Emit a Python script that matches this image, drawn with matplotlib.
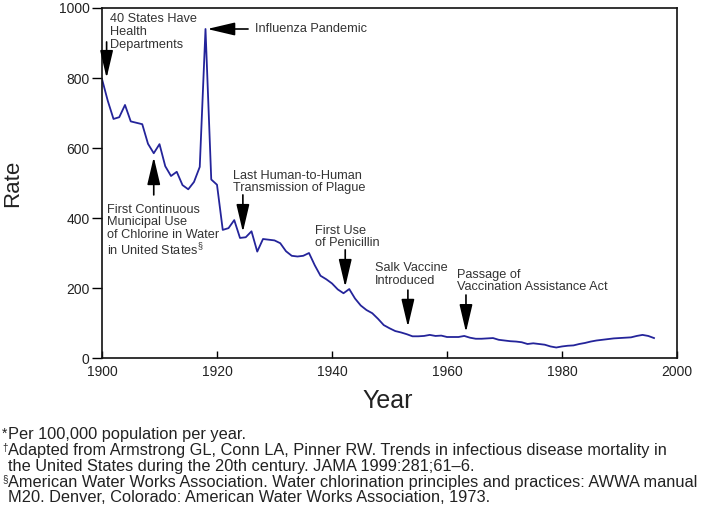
import matplotlib
matplotlib.use("Agg")
import matplotlib.pyplot as plt

# =========================
# DATA
# =========================
years = list(range(1900, 1997))

rates = [
    797, 735, 683, 688, 723, 676, 672, 668, 612, 585,   # 1900-1909
    611, 548, 520, 532, 494, 482, 503, 546, 940, 510,   # 1910-1919
    495, 366, 371, 394, 343, 345, 362, 304, 340, 338,   # 1920-1929
    336, 328, 305, 292, 290, 292, 300, 265, 235, 225,   # 1930-1939
    213, 196, 185, 197, 170, 150, 137, 128, 112, 94,    # 1940-1949
    85, 77, 73, 68, 62, 62, 63, 66, 63, 64,             # 1950-1959
    60, 60, 60, 63, 58, 55, 55, 56, 57, 52,             # 1960-1969
    50, 48, 47, 45, 40, 42, 40, 38, 33, 30,             # 1970-1979
    33, 35, 36, 40, 43, 47, 50, 52, 54, 56,             # 1980-1989
    57, 58, 59, 63, 66, 63, 57,                         # 1990-1996
]

event_labels = [
    "40 States Have\nHealth\nDepartments",
    "Influenza Pandemic",
    "First Continuous\nMunicipal Use\nof Chlorine in Water\nin United States$^{\\S}$",
    "Last Human-to-Human\nTransmission of Plague",
    "First Use\nof Penicillin",
    "Salk Vaccine\nIntroduced",
    "Passage of\nVaccination Assistance Act",
]

# arrow tip and arrow tail (year, rate)
event_tips = [
    (1900.8, 800), (1918.3, 940), (1909.0, 574), (1924.5, 360),
    (1942.3, 203), (1953.2, 89), (1963.3, 74),
]
event_tails = [
    (1900.8, 903), (1925.4, 940), (1909.0, 466), (1924.5, 466),
    (1942.3, 309), (1953.2, 194), (1963.3, 180),
]
# label anchor (year, rate) and vertical alignment
event_text_pos = [
    (1901.4, 985, "top"), (1926.6, 940, "center"), (1900.9, 441, "top"),
    (1922.8, 538, "top"), (1937.0, 381, "top"), (1947.5, 273, "top"),
    (1961.7, 255, "top"),
]

x_ticks = [1900, 1920, 1940, 1960, 1980, 2000]
y_ticks = [0, 200, 400, 600, 800, 1000]

footnotes = [
    ("*", "Per 100,000 population per year."),
    ("$^{\\dagger}$", "Adapted from Armstrong GL, Conn LA, Pinner RW. Trends in infectious disease mortality in"),
    ("", "the United States during the 20th century. JAMA 1999:281;61\u20136."),
    ("$^{\\S}$", "American Water Works Association. Water chlorination principles and practices: AWWA manual"),
    ("", "M20. Denver, Colorado: American Water Works Association, 1973."),
]

# =========================
# FIGURE
# =========================
plt.rcParams["font.family"] = ["Liberation Sans", "DejaVu Sans"]
plt.rcParams["mathtext.fontset"] = "custom"
plt.rcParams["mathtext.rm"] = "Liberation Sans"

fig = plt.figure(figsize=(7.09, 5.12), dpi=100)
ax = fig.add_axes([102 / 709, 154 / 512, 575 / 709, 350 / 512])

ax.plot(years, rates, color="#24249a", linewidth=1.3)

ax.set_xlim(1900, 2000)
ax.set_ylim(0, 1000)

ax.set_xticks(x_ticks)
ax.set_yticks(y_ticks)

ax.tick_params(axis="x", direction="in", length=5, width=1,
               labelsize=10, labelcolor="#222222", pad=5)
ax.tick_params(axis="y", direction="out", length=7, width=1,
               labelsize=10, labelcolor="#222222", pad=2)

for spine in ax.spines.values():
    spine.set_linewidth(1.2)
    spine.set_color("#111111")

ax.set_xlabel("Year", fontsize=18, color="#222222")
ax.set_ylabel("Rate", fontsize=16, color="#222222")
ax.xaxis.set_label_coords(0.497, -0.088)
ax.yaxis.set_label_coords(-0.137, 0.5)

# =========================
# EVENT ARROWS
# =========================
for tip, tail in zip(event_tips, event_tails):
    ax.annotate(
        "",
        xy=tip,
        xytext=tail,
        arrowprops=dict(
            arrowstyle="-|>,head_length=1.7,head_width=0.4",
            mutation_scale=10,
            color="black",
            linewidth=1.2,
            shrinkA=0,
            shrinkB=0,
        ),
    )

for label, (tx, ty, va) in zip(event_labels, event_text_pos):
    ax.text(
        tx,
        ty,
        label,
        fontsize=9.2,
        color="#333333",
        ha="left",
        va=va,
        linespacing=1.08,
    )

# =========================
# FOOTNOTES
# =========================
foot_y = [435, 451, 466, 483, 497]

for (mark, text), py in zip(footnotes, foot_y):
    if mark:
        fig.text(2 / 709, 1 - (py - 1) / 512, mark, fontsize=10,
                 color="#222222", ha="left", va="center")
    fig.text(8 / 709, 1 - py / 512, text,
             fontsize=11.8, color="#222222", ha="left", va="center")

fig.savefig("out.png", dpi=100)
